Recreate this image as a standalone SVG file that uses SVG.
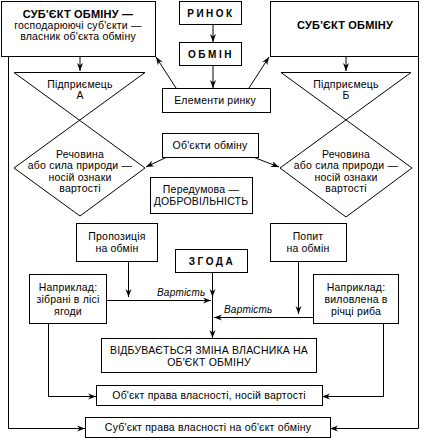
<svg xmlns="http://www.w3.org/2000/svg" width="426" height="440" viewBox="0 0 426 440">
<style>
.b{fill:#fff;stroke:#000;stroke-width:1}
.s{fill:none;stroke:#000;stroke-width:1}
text{font-family:"Liberation Sans",Arial,sans-serif;font-size:10.5px;letter-spacing:0.2px;fill:#000;text-anchor:middle}
.bd{font-weight:bold;font-size:11px;letter-spacing:0.2px}
.sp{font-weight:bold;font-size:10px;letter-spacing:2.5px}
.it{font-style:italic;font-size:10px;letter-spacing:0.2px;text-anchor:start}
</style>
<defs>
<marker id="a" markerUnits="userSpaceOnUse" markerWidth="9" markerHeight="7" refX="8" refY="3.5" orient="auto">
<path d="M0,0.5 L8,3.5 L0,6.5 L2.5,3.5 Z" fill="#000"/>
</marker>
</defs>
<rect width="426" height="440" fill="#fff"/>
<g id="connectors" class="s">
<path d="M80,56.5 V71" marker-end="url(#a)"/>
<path d="M346,56.5 V71" marker-end="url(#a)"/>
<path d="M213,24.5 V42" marker-end="url(#a)"/>
<path d="M213,65.5 V88" marker-end="url(#a)"/>
<path d="M176,88 L156,57" marker-end="url(#a)"/>
<path d="M249,88 L269,57" marker-end="url(#a)"/>
<path d="M167,157 L146,167" marker-end="url(#a)"/>
<path d="M253,157 L279,167" marker-end="url(#a)"/>
<path d="M128.5,261 V297" marker-end="url(#a)"/>
<path d="M298.5,261 V314" marker-end="url(#a)"/>
<path d="M212.5,273 V297" marker-end="url(#a)"/>
<path d="M106,300.5 H211" marker-end="url(#a)"/>
<path d="M212.5,297 V338" marker-end="url(#a)"/>
<path d="M313,317.5 H214" marker-end="url(#a)"/>
<path d="M48.5,323 V396.5 H96" marker-end="url(#a)"/>
<path d="M383.5,323 V396.5 H322" marker-end="url(#a)"/>
<path d="M8.5,56 V428.5 H85" marker-end="url(#a)"/>
<path d="M418.5,56 V428.5 H330" marker-end="url(#a)"/>
</g>
<g id="subject-left">
<rect class="b" x="1.5" y="1.5" width="154" height="55"/>
<text class="bd" x="78" y="18">СУБ'ЄКТ ОБМІНУ —</text>
<text x="78" y="29">господарюючі суб'єкти —</text>
<text x="78" y="40">власник об'єкта обміну</text>
</g>
<g id="subject-right">
<rect class="b" x="270.5" y="1.5" width="148" height="55"/>
<text class="bd" x="345" y="29">СУБ'ЄКТ ОБМІНУ</text>
</g>
<g id="rynok">
<rect class="b" x="179.5" y="1.5" width="62" height="23"/>
<text class="sp" x="211" y="17">РИНОК</text>
</g>
<g id="obmin">
<rect class="b" x="179.5" y="42.5" width="62" height="23"/>
<text class="sp" x="211" y="58">ОБМІН</text>
</g>
<g id="elementy">
<rect class="b" x="162.5" y="88.5" width="108" height="24"/>
<text x="215" y="104">Елементи ринку</text>
</g>
<g id="pidpryiemets-a">
<path class="s" d="M14,72.5 H145 L14,168 L80,216 L145,168 Z"/>
<text x="80" y="88">Підприємець</text>
<text x="80" y="99">А</text>
<text x="80" y="158">Речовина</text>
<text x="80" y="169">або сила природи —</text>
<text x="80" y="181">носій ознаки</text>
<text x="80" y="192">вартості</text>
</g>
<g id="pidpryiemets-b">
<path class="s" d="M281,72.5 H411 L280,168 L346,217 L412,168 Z"/>
<text x="346" y="88">Підприємець</text>
<text x="346" y="99">Б</text>
<text x="346" y="158">Речовина</text>
<text x="346" y="169">або сила природи —</text>
<text x="346" y="181">носій ознаки</text>
<text x="346" y="192">вартості</text>
</g>
<g id="obiekty">
<rect class="b" x="162.5" y="133.5" width="96" height="24"/>
<text x="210" y="149">Об'єкти обміну</text>
</g>
<g id="peredumova">
<rect class="b" x="150.5" y="177.5" width="102" height="36"/>
<text x="201" y="193">Передумова —</text>
<text x="201" y="205">ДОБРОВІЛЬНІСТЬ</text>
</g>
<g id="propozytsiia">
<rect class="b" x="76.5" y="223.5" width="81" height="38"/>
<text x="117" y="240">Пропозиція</text>
<text x="117" y="252">на обмін</text>
</g>
<g id="zgoda">
<rect class="b" x="175.5" y="249.5" width="72" height="23"/>
<text class="sp" x="212" y="265">ЗГОДА</text>
</g>
<g id="popyt">
<rect class="b" x="270.5" y="223.5" width="76" height="38"/>
<text x="308" y="240">Попит</text>
<text x="308" y="252">на обмін</text>
</g>
<g id="naprylad-left">
<rect class="b" x="29.5" y="274.5" width="77" height="49"/>
<text x="68" y="291">Наприклад:</text>
<text x="68" y="303">зібрані в лісі</text>
<text x="68" y="315">ягоди</text>
</g>
<g id="naprylad-right">
<rect class="b" x="313.5" y="274.5" width="85" height="49"/>
<text x="356" y="291">Наприклад:</text>
<text x="356" y="303">виловлена в</text>
<text x="356" y="315">річці риба</text>
</g>
<g id="labels">
<text class="it" x="157" y="296">Вартість</text>
<text class="it" x="224" y="313">Вартість</text>
</g>
<g id="zmina">
<rect class="b" x="101.5" y="338.5" width="215" height="34"/>
<text x="209" y="354">ВІДБУВАЄТЬСЯ ЗМІНА ВЛАСНИКА НА</text>
<text x="209" y="366">ОБ'ЄКТ ОБМІНУ</text>
</g>
<g id="obiekt-prava">
<rect class="b" x="96.5" y="385.5" width="226" height="20"/>
<text x="209" y="399">Об'єкт права власності, носій вартості</text>
</g>
<g id="subiekt-prava">
<rect class="b" x="85.5" y="417.5" width="245" height="20"/>
<text x="208" y="431">Суб'єкт права власності на об'єкт обміну</text>
</g>
</svg>
